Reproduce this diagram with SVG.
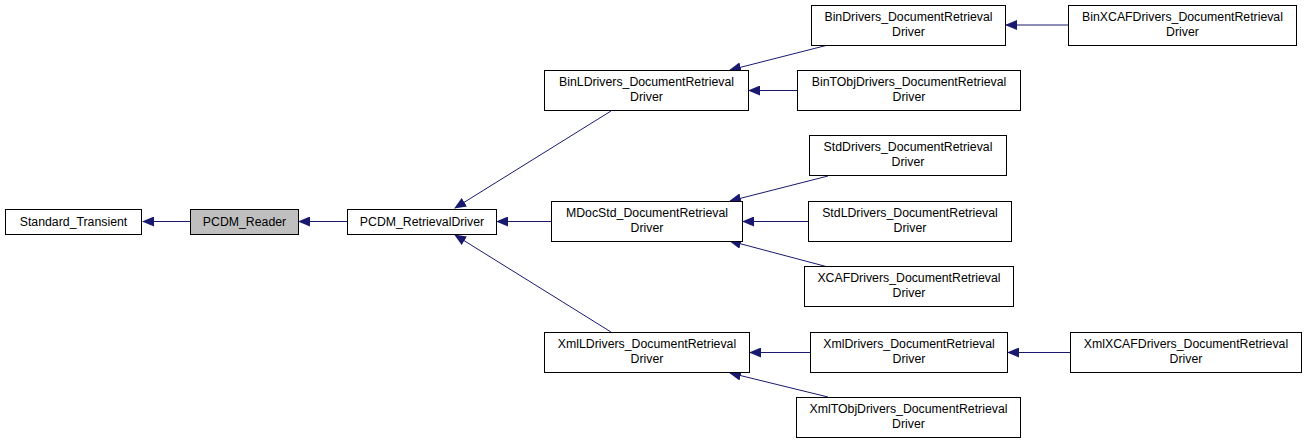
<svg xmlns="http://www.w3.org/2000/svg" width="1307" height="443" viewBox="0 0 1307 443">
<style>
.n rect{fill:#ffffff;stroke:#000000;stroke-width:1}
.n.cur rect{fill:#bfbfbf}
.n text{font-family:"Liberation Sans",Arial,sans-serif;font-size:12.3px;fill:#000000;text-anchor:middle}
.e line{stroke:#191970;stroke-width:1;fill:none}
</style>
<defs>
<marker id="ah" viewBox="0 0 12 10" refX="11" refY="5" markerWidth="12" markerHeight="10" markerUnits="userSpaceOnUse" orient="auto">
<path d="M0,0 L12,5 L0,10 Z" fill="#191970"/>
</marker>
</defs>
<rect width="1307" height="443" fill="#ffffff"/>
<g id="connectors" class="e">
<line x1="190" y1="221.5" x2="143" y2="221.5" marker-end="url(#ah)"/>
<line x1="347" y1="221.5" x2="299" y2="221.5" marker-end="url(#ah)"/>
<line x1="611" y1="111" x2="455" y2="208" marker-end="url(#ah)"/>
<line x1="551" y1="221.5" x2="497" y2="221.5" marker-end="url(#ah)"/>
<line x1="611" y1="332" x2="455" y2="235" marker-end="url(#ah)"/>
<line x1="828" y1="45" x2="730" y2="70" marker-end="url(#ah)"/>
<line x1="797" y1="90.5" x2="749" y2="90.5" marker-end="url(#ah)"/>
<line x1="1068" y1="25" x2="1006" y2="25" marker-end="url(#ah)"/>
<line x1="828" y1="176" x2="730" y2="201" marker-end="url(#ah)"/>
<line x1="808" y1="221.5" x2="743" y2="221.5" marker-end="url(#ah)"/>
<line x1="828" y1="267" x2="730" y2="241" marker-end="url(#ah)"/>
<line x1="810" y1="352.5" x2="750" y2="352.5" marker-end="url(#ah)"/>
<line x1="1070" y1="352.5" x2="1008" y2="352.5" marker-end="url(#ah)"/>
<line x1="828" y1="397" x2="730" y2="373" marker-end="url(#ah)"/>
</g>
<g id="Standard_Transient" class="n"><rect x="5.5" y="209.5" width="136" height="25"/><text x="73.5" y="226">Standard_Transient</text></g>
<g id="PCDM_Reader" class="n cur"><rect x="190.5" y="209.5" width="108" height="25"/><text x="244.5" y="226">PCDM_Reader</text></g>
<g id="PCDM_RetrievalDriver" class="n"><rect x="347.5" y="209.5" width="149" height="25"/><text x="422" y="226">PCDM_RetrievalDriver</text></g>
<g id="BinLDrivers" class="n"><rect x="544.5" y="70.5" width="204" height="40"/><text x="646.5" y="86">BinLDrivers_DocumentRetrieval</text><text x="646.5" y="101">Driver</text></g>
<g id="MDocStd" class="n"><rect x="551.5" y="201.5" width="191" height="40"/><text x="647" y="217">MDocStd_DocumentRetrieval</text><text x="647" y="232">Driver</text></g>
<g id="XmlLDrivers" class="n"><rect x="544.5" y="332.5" width="205" height="40"/><text x="647" y="348">XmlLDrivers_DocumentRetrieval</text><text x="647" y="363">Driver</text></g>
<g id="BinDrivers" class="n"><rect x="811.5" y="5.5" width="194" height="40"/><text x="908.5" y="21">BinDrivers_DocumentRetrieval</text><text x="908.5" y="36">Driver</text></g>
<g id="BinXCAFDrivers" class="n"><rect x="1068.5" y="5.5" width="228" height="40"/><text x="1182.5" y="21">BinXCAFDrivers_DocumentRetrieval</text><text x="1182.5" y="36">Driver</text></g>
<g id="BinTObjDrivers" class="n"><rect x="797.5" y="70.5" width="223" height="40"/><text x="909" y="86">BinTObjDrivers_DocumentRetrieval</text><text x="909" y="101">Driver</text></g>
<g id="StdDrivers" class="n"><rect x="809.5" y="135.5" width="197" height="40"/><text x="908" y="151">StdDrivers_DocumentRetrieval</text><text x="908" y="166">Driver</text></g>
<g id="StdLDrivers" class="n"><rect x="808.5" y="201.5" width="203" height="40"/><text x="910" y="217">StdLDrivers_DocumentRetrieval</text><text x="910" y="232">Driver</text></g>
<g id="XCAFDrivers" class="n"><rect x="804.5" y="266.5" width="209" height="40"/><text x="909" y="282">XCAFDrivers_DocumentRetrieval</text><text x="909" y="297">Driver</text></g>
<g id="XmlDrivers" class="n"><rect x="810.5" y="332.5" width="197" height="40"/><text x="909" y="348">XmlDrivers_DocumentRetrieval</text><text x="909" y="363">Driver</text></g>
<g id="XmlXCAFDrivers" class="n"><rect x="1070.5" y="332.5" width="231" height="40"/><text x="1186" y="348">XmlXCAFDrivers_DocumentRetrieval</text><text x="1186" y="363">Driver</text></g>
<g id="XmlTObjDrivers" class="n"><rect x="796.5" y="397.5" width="224" height="40"/><text x="908.5" y="413">XmlTObjDrivers_DocumentRetrieval</text><text x="908.5" y="428">Driver</text></g>
</svg>
